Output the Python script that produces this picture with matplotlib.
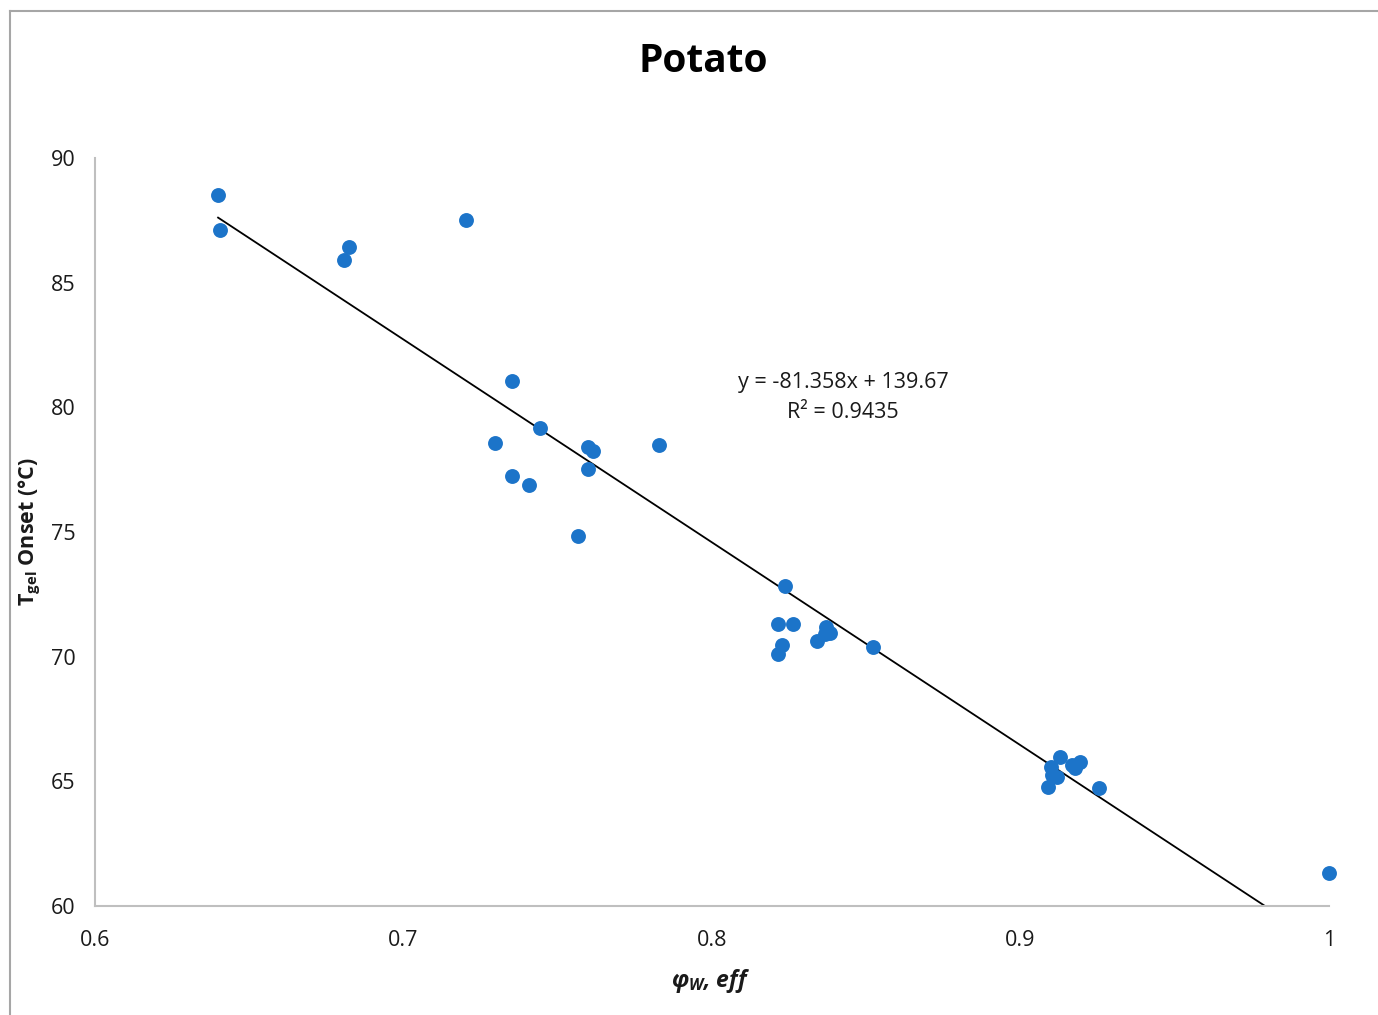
import matplotlib
matplotlib.use("Agg")
import matplotlib.pyplot as plt
from matplotlib.lines import Line2D
import numpy as np

# ---- data ----
phi_w_eff = [0.6399, 0.6405, 0.6823, 0.6807, 0.7203, 0.7352, 0.7442, 0.7297,
             0.7352, 0.7407, 0.7598, 0.7614, 0.7598, 0.7566, 0.7828, 0.8237,
             0.8214, 0.8263, 0.8227, 0.8214, 0.8370, 0.8383, 0.8366, 0.8340,
             0.8522, 0.9128, 0.9099, 0.9102, 0.9089, 0.9118, 0.9167, 0.9193,
             0.9177, 0.9254, 1.0000]
t_gel_onset = [88.52, 87.11, 86.43, 85.91, 87.51, 81.05, 79.17, 78.57,
               77.24, 76.88, 78.41, 78.25, 77.53, 74.84, 78.49, 72.83,
               71.31, 71.31, 70.47, 70.10, 71.19, 70.95, 70.91, 70.63,
               70.39, 65.97, 65.57, 65.25, 64.77, 65.17, 65.65, 65.77,
               65.53, 64.73, 61.32]
slope = -81.358
intercept = 139.67
r_squared = 0.9435
x_ticks = [0.6, 0.7, 0.8, 0.9, 1.0]
x_tick_labels = ["0.6", "0.7", "0.8", "0.9", "1"]
y_ticks = [60, 65, 70, 75, 80, 85, 90]

plt.rcParams['font.family'] = ['Open Sans', 'DejaVu Sans']
plt.rcParams['mathtext.fontset'] = 'custom'
plt.rcParams['mathtext.rm'] = 'Open Sans'
plt.rcParams['mathtext.it'] = 'Open Sans:italic:bold'
plt.rcParams['mathtext.bf'] = 'Open Sans:bold'

W, H = 1378, 1015
fig = plt.figure(figsize=(W / 100, H / 100), dpi=100)
ax = fig.add_axes([95 / W, 1 - 906 / H, (1329 - 95) / W, (906 - 158) / H])

# outer chart border
fig.add_artist(Line2D([9.5 / W, 9.5 / W], [0, 1 - 10.5 / H], transform=fig.transFigure,
                      color='#a6a6a6', lw=1.5))
fig.add_artist(Line2D([9.5 / W, 1], [1 - 10.5 / H, 1 - 10.5 / H], transform=fig.transFigure,
                      color='#a6a6a6', lw=1.5))

ax.scatter(phi_w_eff, t_gel_onset, s=115, color='#1C74C9', zorder=3, linewidths=0,
           clip_on=False)

xs = np.array([min(phi_w_eff), max(phi_w_eff)])
ax.plot(xs, slope * xs + intercept, color='black', lw=1.3, zorder=2)

ax.set_xlim(0.6, 1.0)
ax.set_ylim(60, 90)
ax.set_xticks(x_ticks)
ax.set_xticklabels(x_tick_labels)
ax.set_yticks(y_ticks)
ax.tick_params(axis='both', length=0, labelsize=15.5, colors='#1a1a1a')
ax.tick_params(axis='x', pad=17)
ax.tick_params(axis='y', pad=14)
for s in ['top', 'right']:
    ax.spines[s].set_visible(False)
for s in ['left', 'bottom']:
    ax.spines[s].set_color('#bfbfbf')
    ax.spines[s].set_linewidth(1.5)

ax.text(0.8425, 80.4, f"y = {slope}x + {intercept}\nR² = {r_squared}",
        ha='center', va='center', fontsize=15.5, color='#1a1a1a', linespacing=1.6)

fig.text(703 / W, 1 - 61 / H, "Potato", ha='center', va='center',
         fontsize=28, fontweight='bold', color='black')

fig.text(711 / W, 1 - 981 / H, r'$\varphi_{W}$, eff', ha='center', va='center',
         fontsize=16.5, fontweight='bold', fontstyle='italic', color='#1a1a1a')
fig.text(30 / W, 1 - 532 / H, r'$\mathbf{T}_{\mathbf{gel}}$ Onset (°C)', ha='center',
         va='center', rotation=90, fontsize=15.5, fontweight='bold', color='#1a1a1a')

fig.savefig("out.png", dpi=100, facecolor='white')
